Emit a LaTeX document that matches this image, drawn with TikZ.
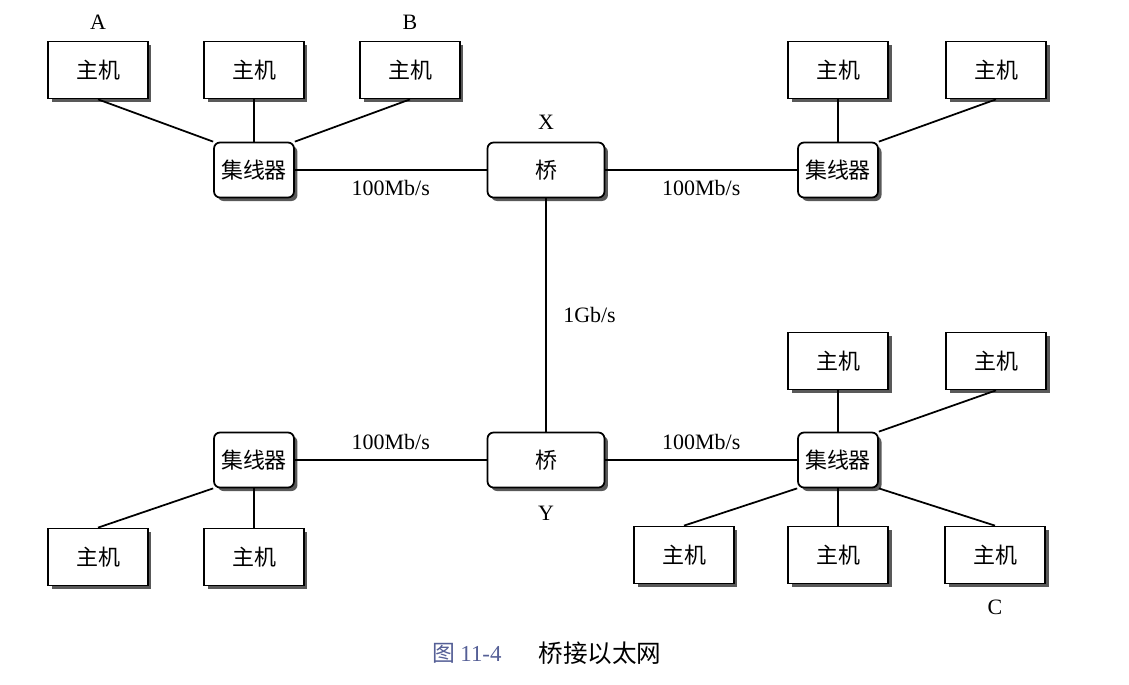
\documentclass[tikz,border=0pt]{standalone}
\usepackage{fontspec}
\setmainfont{Liberation Serif}
\newfontfamily\cjk{Noto Sans CJK SC}
\usetikzlibrary{shadows}
\definecolor{captionblue}{RGB}{85,95,150}
\tikzstyle{boxshadow} = [drop shadow={shadow xshift=0.07cm, shadow yshift=-0.07cm, fill=black!65, opacity=1}]
\tikzstyle{hostblock} = [draw, line width=1pt, fill=white, boxshadow, minimum width=2cm, minimum height=1.14cm, font=\cjk\fontsize{12.5}{14}\selectfont]
\tikzstyle{hubblock} = [draw, line width=1pt, fill=white, boxshadow, rounded corners=0.12cm, inner sep=1pt, minimum width=1.6cm, minimum height=1.1cm, font=\cjk\fontsize{12.5}{14}\selectfont]
\tikzstyle{bridgeblock} = [draw, line width=1pt, fill=white, boxshadow, rounded corners=0.12cm, minimum width=2.34cm, minimum height=1.1cm, font=\cjk\fontsize{12.5}{14}\selectfont]
\tikzstyle{rate} = [font=\fontsize{12.5}{14}\selectfont]
\tikzstyle{wire} = [line width=1pt]

\begin{document}
\begin{tikzpicture}[x=0.02cm, y=-0.02cm]
      \useasboundingbox (0,0) rectangle (1129,684);
      \node[hostblock] (hostA) at (98, 70) {主机};
      \node[hostblock] (hostA2) at (254, 70) {主机};
      \node[hostblock] (hostB) at (410, 70) {主机};
      \node[rate] at (98, 22) {A};
      \node[rate] at (410, 22) {B};
      \node[hubblock] (hub1) at (254, 170) {集线器};
      \node[bridgeblock] (bridgeX) at (546, 170) {桥};
      \node[rate] at (546, 122) {X};
      \node[hubblock] (hub2) at (838, 170) {集线器};
      \node[hostblock] (host21) at (838, 70) {主机};
      \node[hostblock] (host22) at (996, 70) {主机};

      \node[bridgeblock] (bridgeY) at (546, 460) {桥};
      \node[rate] at (546, 513) {Y};
      \node[hubblock] (hub3) at (254, 460) {集线器};
      \node[hostblock] (host31) at (98, 557) {主机};
      \node[hostblock] (host32) at (254, 557) {主机};
      \node[hubblock] (hub4) at (838, 460) {集线器};
      \node[hostblock] (host41) at (838, 361) {主机};
      \node[hostblock] (host42) at (996, 361) {主机};
      \node[hostblock] (host43) at (684, 555) {主机};
      \node[hostblock] (host44) at (838, 555) {主机};
      \node[hostblock] (hostC) at (995, 555) {主机};
      \node[rate] at (995, 607) {C};

      \node[font=\cjk\fontsize{13}{15}\selectfont, text=captionblue] at (467, 653) {图 {\rmfamily 11-4}};
      \node[font=\cjk\fontsize{14}{16}\selectfont] at (600, 653) {桥接以太网};

      \draw[wire] (hostA.south) -- (hub1.north west);
      \draw[wire] (hostA2) -- (hub1);
      \draw[wire] (hostB.south) -- (hub1.north east);
      \draw[wire] (hub1) -- node[rate, below=2pt] {100Mb/s} (bridgeX);
      \draw[wire] (bridgeX) -- node[rate, below=2pt] {100Mb/s} (hub2);
      \draw[wire] (host21) -- (hub2);
      \draw[wire] (host22.south) -- (hub2.north east);
      \draw[wire] (bridgeX) -- node[rate, right=6pt] {1Gb/s} (bridgeY);
      \draw[wire] (hub3) -- node[rate, above=2pt] {100Mb/s} (bridgeY);
      \draw[wire] (bridgeY) -- node[rate, above=2pt] {100Mb/s} (hub4);
      \draw[wire] (host31.north) -- (hub3.south west);
      \draw[wire] (host32) -- (hub3);
      \draw[wire] (host41) -- (hub4);
      \draw[wire] (host42.south) -- (hub4.north east);
      \draw[wire] (hub4.south west) -- (host43.north);
      \draw[wire] (hub4) -- (host44);
      \draw[wire] (hub4.south east) -- (hostC.north);
    \end{tikzpicture}
\end{document}
